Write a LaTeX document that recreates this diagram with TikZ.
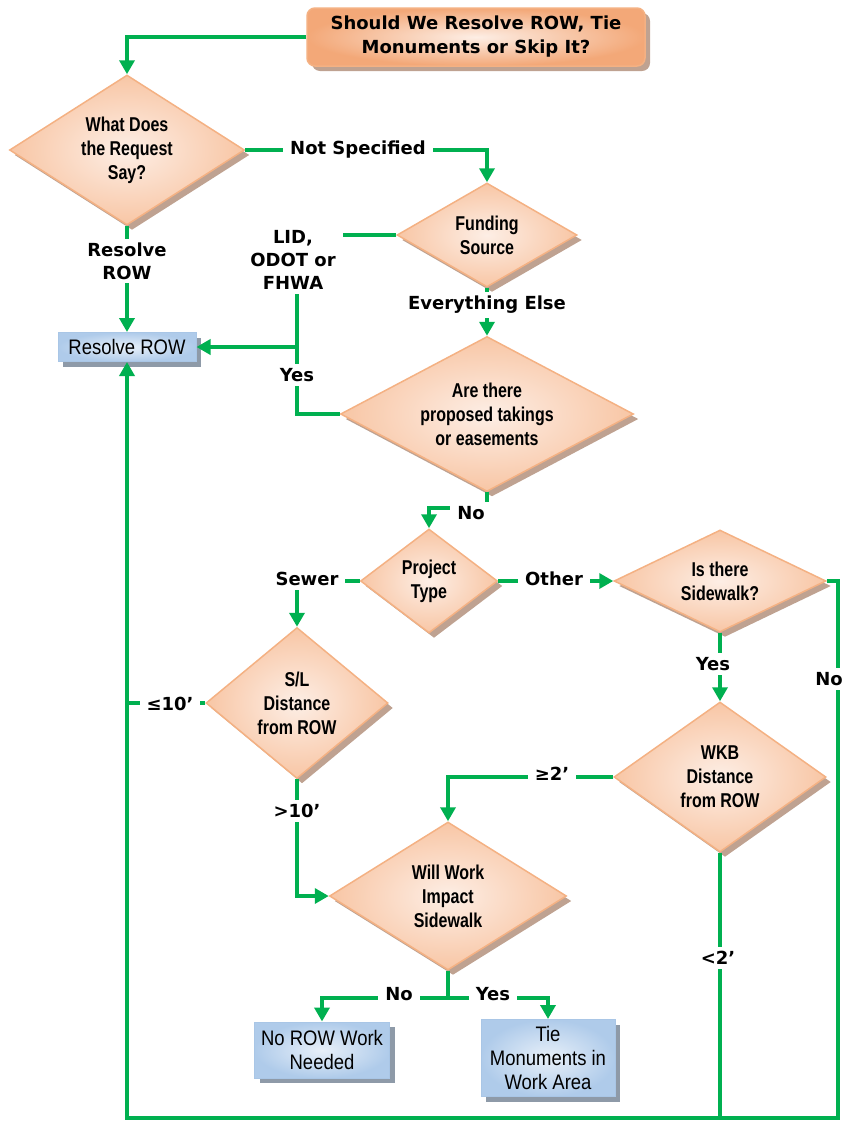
\documentclass[tikz,border=0pt]{standalone}
\usepackage{fontspec}
\setmainfont{Liberation Sans}
\newfontfamily\lblfont{DejaVu Sans}
\newfontfamily\dmdfont[FakeStretch=0.8]{Liberation Sans}
\newfontfamily\boxfont[FakeStretch=0.88]{Liberation Sans}
\usetikzlibrary{shapes.geometric, shadows, arrows.meta}

\definecolor{flowgreen}{HTML}{00B050}
\definecolor{peachin}{HTML}{FDEEE5}
\definecolor{peachout}{HTML}{F8C6A5}
\definecolor{peachdark}{HTML}{F3A878}
\definecolor{peachline}{HTML}{F4B183}
\definecolor{peachshadow}{HTML}{BFA291}
\definecolor{bluein}{HTML}{E8F0F9}
\definecolor{blueout}{HTML}{AFCBEA}
\definecolor{blueline}{HTML}{A9C6E6}
\definecolor{blueshadow}{HTML}{8E9AA8}

\begin{document}
\begin{tikzpicture}[x=1pt,y=-1pt,
    decision/.style={diamond, draw=peachline, line width=1.5pt, inner sep=0pt,
        shading=radial, inner color=peachin, outer color=peachout,
        drop shadow={shadow xshift=5pt, shadow yshift=-5pt, fill=peachshadow, opacity=1},
        align=center, font=\dmdfont\bfseries\fontsize{20}{24}\selectfont},
    startbox/.style={rectangle, rounded corners=8pt, draw=peachline, line width=1.5pt,
        shading=radial, inner color=peachin, outer color=peachdark,
        drop shadow={shadow xshift=5pt, shadow yshift=-5pt, fill=peachshadow, opacity=1},
        minimum width=338pt, minimum height=58pt, align=center,
        font=\lblfont\bfseries\fontsize{18}{24}\selectfont},
    endbox/.style={rectangle, draw=blueline, line width=1pt, inner sep=2pt,
        shading=radial, inner color=bluein, outer color=blueout,
        drop shadow={shadow xshift=5pt, shadow yshift=-5pt, fill=blueshadow, opacity=1},
        align=center, font=\boxfont\fontsize{21}{24}\selectfont},
    lbl/.style={fill=white, inner xsep=7pt, inner ysep=4pt, align=center,
        font=\lblfont\bfseries\fontsize{18}{23}\selectfont},
    flow/.style={draw=flowgreen, line width=4pt},
    arr/.style={flow, -{Triangle[length=14pt,width=15pt]}}
    ]
    \useasboundingbox (0,0) rectangle (846,1125);

    % boxes and decisions
    \node[startbox] (title) at (476,37) {Should We Resolve ROW, Tie\\Monuments or Skip It?};
    \node[decision, minimum width=235pt, minimum height=150pt, shape aspect=1.57] (request) at (127,150) {What Does\\the Request\\Say?};
    \node[decision, minimum width=180pt, minimum height=104pt, shape aspect=1.73] (funding) at (487,235) {Funding\\Source};
    \node[decision, minimum width=293pt, minimum height=155pt, shape aspect=1.89] (takings) at (487,414) {Are there\\proposed takings\\or easements};
    \node[decision, minimum width=137pt, minimum height=104pt, shape aspect=1.32] (ptype) at (429,581) {Project\\Type};
    \node[decision, minimum width=212pt, minimum height=102pt, shape aspect=2.08] (sidewalk) at (720,581) {Is there\\Sidewalk?};
    \node[decision, minimum width=182pt, minimum height=151pt, shape aspect=1.2] (slrow) at (297,703) {S/L\\Distance\\from ROW};
    \node[decision, minimum width=212pt, minimum height=150pt, shape aspect=1.41] (wkb) at (720,777) {WKB\\Distance\\from ROW};
    \node[decision, minimum width=237pt, minimum height=148pt, shape aspect=1.6] (impact) at (448,896) {Will Work\\Impact\\Sidewalk};

    \node[endbox, minimum width=138pt, minimum height=29pt] (resolve) at (127,347) {Resolve ROW};
    \node[endbox, minimum width=135pt, minimum height=56pt] (noneed) at (322,1050) {No ROW Work\\Needed};
    \node[endbox, minimum width=134pt, minimum height=77pt] (tie) at (548,1058) {Tie\\Monuments in\\Work Area};

    \coordinate (join) at (297,347);
    \coordinate (loopR) at (838,1118);
    \coordinate (loopL) at (127,1118);

    % connectors
    \draw[arr] (title.west) -| (request.north);
    \draw[arr] (request.east) -| (funding.north);
    \draw[arr] (request.south) -- (resolve.north);
    \draw[flow] (funding.west) -| (join);
    \draw[flow] (takings.west) -| (join);
    \draw[arr] (join) -- (resolve.east);
    \draw[arr] (funding.south) -- (takings.north);
    \draw[arr] (takings.south) -- ++(0,16) -| (ptype.north);
    \draw[arr] (ptype.west) -| (slrow.north);
    \draw[arr] (ptype.east) -- (sidewalk.west);
    \draw[arr] (sidewalk.south) -- (wkb.north);
    \draw[arr] (slrow.south) |- (impact.west);
    \draw[arr] (wkb.west) -| (impact.north);
    \draw[flow] (impact.south) -- ++(0,27) coordinate (split);
    \draw[arr] (split) -| (noneed.north);
    \draw[arr] (split) -| (tie.north);
    % loop back to Resolve ROW
    \draw[arr] (sidewalk.east) -| (loopR) -- (loopL) -- (resolve.south);
    \draw[flow] (wkb.south) -- (wkb.south |- loopL);
    \draw[flow] (slrow.west) -- (slrow.west -| loopL);

    % labels
    \node[lbl] at (358,150) {Not Specified};
    \node[lbl] at (127,261) {Resolve\\ROW};
    \node[lbl] at (293,260) {LID,\\ODOT or\\FHWA};
    \node[lbl] at (487,305) {Everything Else};
    \node[lbl] at (297,375) {Yes};
    \node[lbl] at (471,513) {No};
    \node[lbl] at (307,579) {Sewer};
    \node[lbl] at (554,579) {Other};
    \node[lbl] at (713,664) {Yes};
    \node[lbl, inner xsep=2pt] at (829,679) {No};
    \node[lbl] at (170,704) {≤10’};
    \node[lbl] at (297,811) {>10’};
    \node[lbl] at (552,774) {≥2’};
    \node[lbl] at (718,958) {<2’};
    \node[lbl] at (399,994) {No};
    \node[lbl] at (493,994) {Yes};
\end{tikzpicture}
\end{document}
